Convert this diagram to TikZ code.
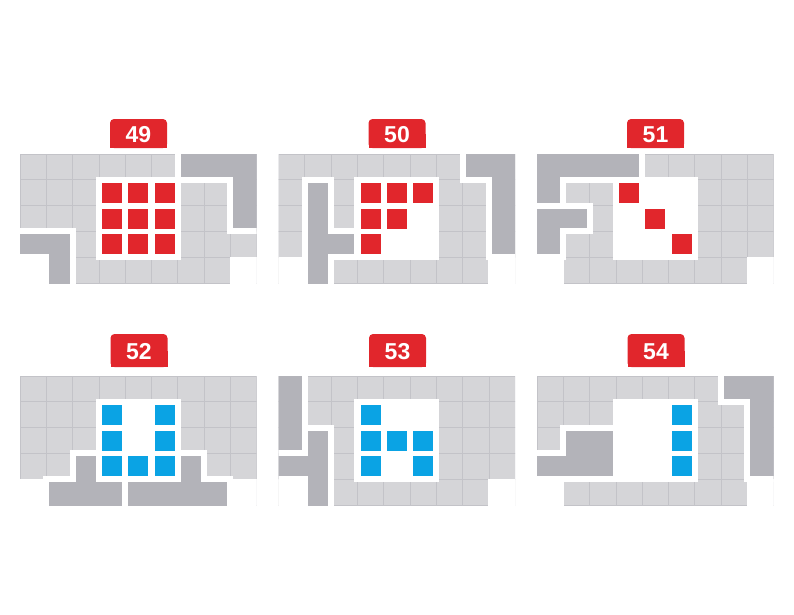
\documentclass[tikz,border=0pt]{standalone}
\usepackage{fontspec}
\setmainfont{Liberation Sans}

\definecolor{casegris}{HTML}{D5D5D8}
\definecolor{lignegris}{HTML}{C3C3C8}
\definecolor{piecegris}{HTML}{B3B3B9}
\definecolor{rouge}{HTML}{E1262C}
\definecolor{bleu}{HTML}{0AA3E4}

\tikzset{
  plateau/.style={x=26.3pt, y=-25.8pt},
  case/.style={fill=casegris, draw=lignegris, line width=0.7pt},
  vide/.style={fill=white, draw=white, line width=1.2pt},
  trou/.style={fill=white, draw=white, line width=6pt},
  piece/.style={fill=piecegris, draw=white, line width=6pt, line join=miter},
  numero/.style={text=white, font=\bfseries\fontsize{23}{23}\selectfont, inner sep=0pt},
}

\begin{document}
\begin{tikzpicture}[x=1pt, y=-1pt]
\path[use as bounding box] (0,0) rectangle (794,614);

%% etiquettes rouges
\foreach \n/\x/\y/\h in {49/138.5/133.5/29, 50/397/133.5/29, 51/655.5/133.5/29,
                         52/139/350.5/33, 53/397.5/350.5/33, 54/656/350.5/33} {
  \fill[rouge, rounded corners=4pt] (\x-28.5,\y-\h/2) rectangle (\x+28.5,\y+\h/2);
  \fill[rouge] (\x-28.5,\y) rectangle (\x+28.5,\y+\h/2);
  \node[numero] (num\n) at (\x,\y+1) {\n};
}

%% plateau 49
\begin{scope}[shift={(20,154)}, plateau]
  \clip (0,0) rectangle (9,5);
  \foreach \c in {0,...,8} \foreach \r in {0,...,4} \draw[case] (\c,\r) rectangle ++(1,1);
  \draw[vide] (0,4) rectangle ++(1,1) (8,4) rectangle ++(1,1);
  \draw[trou] (3,1) rectangle (6,4);
  \draw[piece] (6,-1) -- (10,-1) -- (10,3) -- (8,3) -- (8,1) -- (6,1) -- cycle;
  \draw[piece] (-1,3) -- (2,3) -- (2,6) -- (1,6) -- (1,4) -- (-1,4) -- cycle;
  \foreach \c/\r in {3/1,4/1,5/1,3/2,4/2,5/2,3/3,4/3,5/3}
    \fill[rouge] (\c+0.5,\r+0.5) ++(-10pt,-10pt) rectangle ++(20pt,20pt);
\end{scope}

%% plateau 50
\begin{scope}[shift={(278.5,154)}, plateau]
  \clip (0,0) rectangle (9,5);
  \foreach \c in {0,...,8} \foreach \r in {0,...,4} \draw[case] (\c,\r) rectangle ++(1,1);
  \draw[vide] (0,4) rectangle ++(1,1) (8,4) rectangle ++(1,1);
  \draw[trou] (3,1) rectangle (6,4);
  \draw[piece] (7,-1) -- (10,-1) -- (10,4) -- (8,4) -- (8,1) -- (7,1) -- cycle;
  \draw[piece] (1,1) -- (2,1) -- (2,3) -- (3,3) -- (3,4) -- (2,4) -- (2,6) -- (1,6) -- cycle;
  \foreach \c/\r in {3/1,4/1,5/1,3/2,4/2,3/3}
    \fill[rouge] (\c+0.5,\r+0.5) ++(-10pt,-10pt) rectangle ++(20pt,20pt);
\end{scope}

%% plateau 51
\begin{scope}[shift={(537,154)}, plateau]
  \clip (0,0) rectangle (9,5);
  \foreach \c in {0,...,8} \foreach \r in {0,...,4} \draw[case] (\c,\r) rectangle ++(1,1);
  \draw[vide] (0,4) rectangle ++(1,1) (8,4) rectangle ++(1,1);
  \draw[trou] (3,1) rectangle (6,4);
  \draw[piece] (-1,-1) -- (4,-1) -- (4,1) -- (1,1) -- (1,2) -- (-1,2) -- cycle;
  \draw[piece] (-1,2) -- (2,2) -- (2,3) -- (1,3) -- (1,4) -- (-1,4) -- cycle;
  \foreach \c/\r in {3/1,4/2,5/3}
    \fill[rouge] (\c+0.5,\r+0.5) ++(-10pt,-10pt) rectangle ++(20pt,20pt);
\end{scope}

%% plateau 52
\begin{scope}[shift={(20,376)}, plateau]
  \clip (0,0) rectangle (9,5);
  \foreach \c in {0,...,8} \foreach \r in {0,...,4} \draw[case] (\c,\r) rectangle ++(1,1);
  \draw[vide] (0,4) rectangle ++(1,1) (8,4) rectangle ++(1,1);
  \draw[trou] (3,1) rectangle (6,4);
  \draw[piece] (2,3) -- (3,3) -- (3,4) -- (4,4) -- (4,6) -- (1,6) -- (1,4) -- (2,4) -- cycle;
  \draw[piece] (6,3) -- (7,3) -- (7,4) -- (8,4) -- (8,6) -- (4,6) -- (4,4) -- (6,4) -- cycle;
  \foreach \c/\r in {3/1,5/1,3/2,5/2,3/3,4/3,5/3}
    \fill[bleu] (\c+0.5,\r+0.5) ++(-10pt,-10pt) rectangle ++(20pt,20pt);
\end{scope}

%% plateau 53
\begin{scope}[shift={(278.5,376)}, plateau]
  \clip (0,0) rectangle (9,5);
  \foreach \c in {0,...,8} \foreach \r in {0,...,4} \draw[case] (\c,\r) rectangle ++(1,1);
  \draw[vide] (0,4) rectangle ++(1,1) (8,4) rectangle ++(1,1);
  \draw[trou] (3,1) rectangle (6,4);
  \draw[piece] (-1,-1) -- (1,-1) -- (1,3) -- (-1,3) -- cycle;
  \draw[piece] (1,2) -- (2,2) -- (2,6) -- (1,6) -- (1,4) -- (-1,4) -- (-1,3) -- (1,3) -- cycle;
  \foreach \c/\r in {3/1,3/2,4/2,5/2,3/3,5/3}
    \fill[bleu] (\c+0.5,\r+0.5) ++(-10pt,-10pt) rectangle ++(20pt,20pt);
\end{scope}

%% plateau 54
\begin{scope}[shift={(537,376)}, plateau]
  \clip (0,0) rectangle (9,5);
  \foreach \c in {0,...,8} \foreach \r in {0,...,4} \draw[case] (\c,\r) rectangle ++(1,1);
  \draw[vide] (0,4) rectangle ++(1,1) (8,4) rectangle ++(1,1);
  \draw[trou] (3,1) rectangle (6,4);
  \draw[piece] (7,-1) -- (10,-1) -- (10,4) -- (8,4) -- (8,1) -- (7,1) -- cycle;
  \draw[piece] (1,2) -- (3,2) -- (3,4) -- (-1,4) -- (-1,3) -- (1,3) -- cycle;
  \foreach \c/\r in {5/1,5/2,5/3}
    \fill[bleu] (\c+0.5,\r+0.5) ++(-10pt,-10pt) rectangle ++(20pt,20pt);
\end{scope}
\end{tikzpicture}
\end{document}
